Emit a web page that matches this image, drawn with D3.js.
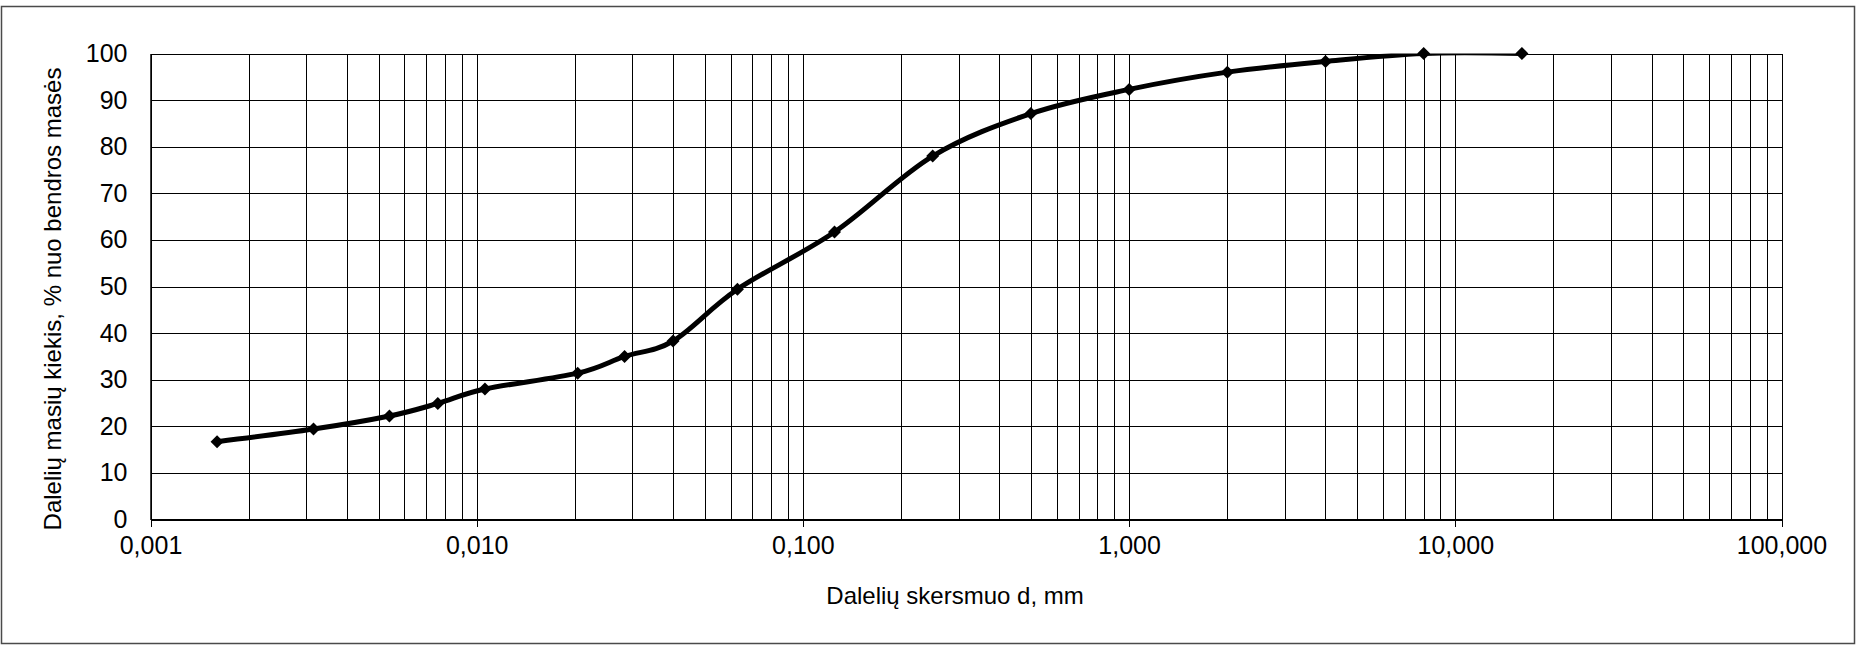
<!DOCTYPE html>
<html>
<head>
<meta charset="utf-8">
<script src="https://cdn.jsdelivr.net/npm/d3@7"></script>
<style>
  html, body { margin: 0; padding: 0; background: #fff; }
  svg { display: block; }
  text { font-family: "Liberation Sans", Arial, sans-serif; fill: #000; }
</style>
</head>
<body>
<svg id="chart" width="1860" height="649"></svg>
<script>
// ---- data ----
const particleSizes = [0.0016, 0.00316, 0.0054, 0.0076, 0.0106, 0.0204, 0.0284, 0.040, 0.063, 0.125, 0.25, 0.5, 1, 2, 4, 8, 16];
const passingPercent = [16.7, 19.4, 22.2, 24.9, 28.0, 31.4, 35.0, 38.3, 49.4, 61.7, 78.0, 87.1, 92.3, 96.0, 98.3, 100, 100];
const xMajorTicks = [0.001, 0.01, 0.1, 1, 10, 100];
const xTickLabels = ["0,001", "0,010", "0,100", "1,000", "10,000", "100,000"];
const yTicks = [0, 10, 20, 30, 40, 50, 60, 70, 80, 90, 100];
const yTickLabels = ["0", "10", "20", "30", "40", "50", "60", "70", "80", "90", "100"];
const xTitle = "Dalelių skersmuo d, mm";
const yTitle = "Dalelių masių kiekis, % nuo bendros masės";

(function () {
// ---- layout ----
const svg = d3.select("#chart");
const pLeft = 150.5, pRight = 1781.5, pTop = 53.5, pBottom = 519.5;

const x = d3.scaleLog().domain([0.001, 100]).range([pLeft, pRight]);
const y = d3.scaleLinear().domain([0, 100]).range([pBottom, pTop]);

// outer frame
svg.append("rect")
  .attr("x", 1.5).attr("y", 6.5).attr("width", 1853).attr("height", 637)
  .attr("fill", "#fff").attr("stroke", "#4a4a4a").attr("stroke-width", 1.5);

// minor + major vertical grid values
const xGrid = [];
for (let e = -3; e <= 1; e++) {
  for (let m = 1; m <= 9; m++) xGrid.push(m * Math.pow(10, e));
}
xGrid.push(100);

const grid = svg.append("g").attr("shape-rendering", "crispEdges");
grid.selectAll("line.vg").data(xGrid).join("line")
  .attr("class", "vg")
  .attr("x1", d => Math.round(x(d)) + 0.5).attr("x2", d => Math.round(x(d)) + 0.5)
  .attr("y1", pTop).attr("y2", pBottom)
  .attr("stroke", "#000").attr("stroke-width", 1);

grid.selectAll("line.hg").data(yTicks).join("line")
  .attr("class", "hg")
  .attr("x1", pLeft).attr("x2", pRight)
  .attr("y1", d => Math.round(y(d)) + 0.5).attr("y2", d => Math.round(y(d)) + 0.5)
  .attr("stroke", "#000").attr("stroke-width", 1);

// axes
const xAxis = d3.axisBottom(x)
  .tickValues(xMajorTicks)
  .tickFormat((d, i) => xTickLabels[i])
  .tickSizeInner(7).tickSizeOuter(0).tickPadding(10);
const gx = svg.append("g").attr("transform", `translate(0,${pBottom})`).call(xAxis);
gx.select(".domain").attr("stroke", "#000").attr("stroke-width", 2);
gx.selectAll(".tick line").attr("stroke", "#000").attr("shape-rendering", "crispEdges");
gx.selectAll(".tick text")
  .attr("font-size", 25).attr("font-family", "Liberation Sans, Arial, sans-serif")
  .attr("fill", "#000");

const yAxis = d3.axisLeft(y)
  .tickValues(yTicks)
  .tickFormat((d, i) => yTickLabels[i])
  .tickSizeInner(0).tickSizeOuter(0).tickPadding(23);
const gy = svg.append("g").attr("transform", `translate(${pLeft},0)`).call(yAxis);
gy.select(".domain").attr("stroke", "#000").attr("stroke-width", 1.5);
gy.selectAll(".tick text")
  .attr("font-size", 25).attr("font-family", "Liberation Sans, Arial, sans-serif")
  .attr("fill", "#000");

// titles
svg.append("text")
  .attr("x", 955).attr("y", 604)
  .attr("text-anchor", "middle").attr("font-size", 24)
  .text(xTitle);

svg.append("text")
  .attr("transform", "translate(61,299) rotate(-90)")
  .attr("text-anchor", "middle").attr("font-size", 24)
  .text(yTitle);

// clip for curve
svg.append("clipPath").attr("id", "plotClip")
  .append("rect").attr("x", pLeft).attr("y", pTop).attr("width", pRight - pLeft).attr("height", pBottom - pTop);

const pts = particleSizes.map((d, i) => [d, passingPercent[i]]);

const line = d3.line()
  .x(d => x(d[0])).y(d => y(d[1]))
  .curve(d3.curveCatmullRom.alpha(0));

svg.append("path")
  .datum(pts)
  .attr("clip-path", "url(#plotClip)")
  .attr("d", line)
  .attr("fill", "none").attr("stroke", "#000").attr("stroke-width", 5)
  .attr("stroke-linejoin", "round");

// diamond markers
const s = 6.5;
svg.append("g").selectAll("path.mk").data(pts).join("path")
  .attr("class", "mk")
  .attr("d", d => {
    const cx = x(d[0]), cy = y(d[1]);
    return `M${cx},${cy - s}L${cx + s},${cy}L${cx},${cy + s}L${cx - s},${cy}Z`;
  })
  .attr("fill", "#000");
})();
</script>
</body>
</html>
